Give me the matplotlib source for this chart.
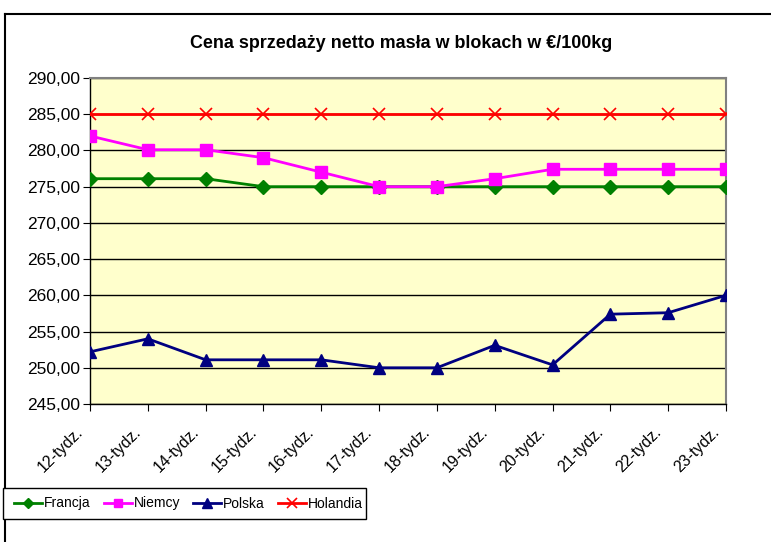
import matplotlib
matplotlib.use("Agg")
import matplotlib.pyplot as plt
from matplotlib.lines import Line2D
from matplotlib.patches import Rectangle
from matplotlib.transforms import ScaledTranslation
from matplotlib.ticker import FuncFormatter, MultipleLocator

plt.rcParams['font.family'] = ['Liberation Sans', 'DejaVu Sans']

weeks = ["12-tydz.", "13-tydz.", "14-tydz.", "15-tydz.", "16-tydz.", "17-tydz.",
         "18-tydz.", "19-tydz.", "20-tydz.", "21-tydz.", "22-tydz.", "23-tydz."]
francja = [276.1, 276.1, 276.1, 275.0, 275.0, 275.0, 275.0, 275.0, 275.0, 275.0, 275.0, 275.0]
niemcy = [282.0, 280.1, 280.1, 279.0, 277.0, 275.0, 275.0, 276.1, 277.4, 277.4, 277.4, 277.4]
polska = [252.2, 254.0, 251.1, 251.1, 251.1, 250.0, 250.0, 253.1, 250.4, 257.4, 257.6, 260.0]
holandia = [285.0] * 12

W, H = 771, 542
fig = plt.figure(figsize=(W / 100, H / 100), dpi=100)
ax = fig.add_axes([90 / W, 1 - 404 / H, (726 - 90) / W, (404 - 78) / H])
ax.set_facecolor("#FFFFCC")

x = list(range(len(weeks)))
ax.plot(x, francja, color="#008000", marker="D", markersize=7, lw=2, label="Francja", zorder=3)
ax.plot(x, niemcy, color="#FF00FF", marker="s", markersize=8, lw=2, label="Niemcy", zorder=3)
ax.plot(x, polska, color="#000080", marker="^", markersize=9, lw=2, label="Polska", zorder=3)
ax.plot(x, holandia, color="#FF0000", marker="x", markersize=9, mew=1.2, lw=2, label="Holandia", zorder=3)

ax.set_xlim(0, len(weeks) - 1)
ax.set_ylim(245, 290)
ax.yaxis.set_major_locator(MultipleLocator(5))
ax.yaxis.set_major_formatter(FuncFormatter(lambda v, p: f"{v:.2f}".replace(".", ",")))
ax.set_xticks(x)
ax.set_xticklabels(weeks, rotation=45, ha="right", va="baseline", rotation_mode="anchor", fontsize=11.5)
ax.tick_params(axis="y", labelsize=12.5, length=5, direction="out", pad=2)
ax.tick_params(axis="x", length=5, direction="out", pad=15.5)
shift = ScaledTranslation(-6 / 100, 0, fig.dpi_scale_trans)
for lab in ax.get_xticklabels():
    lab.set_transform(lab.get_transform() + shift)
ax.grid(axis="y", color="black", lw=1)
ax.set_axisbelow(True)
for s in ["top", "right"]:
    ax.spines[s].set_color("#808080")
    ax.spines[s].set_linewidth(1.5)
for s in ["left", "bottom"]:
    ax.spines[s].set_color("black")
    ax.spines[s].set_linewidth(1)
ax.spines["top"].set_zorder(4)

fig.text(401 / W, 1 - 43 / H, "Cena sprzedaży netto masła w blokach w €/100kg",
         ha="center", va="center", fontsize=12.9, fontweight="bold")

# outer chart border
fig.add_artist(Line2D([5 / W, 5 / W], [0, 1 - 14 / H], color="black", lw=1.5, transform=fig.transFigure))
fig.add_artist(Line2D([5 / W, 1], [1 - 14 / H, 1 - 14 / H], color="black", lw=1.5, transform=fig.transFigure))

# legend box
fig.add_artist(Rectangle((3 / W, 1 - 519 / H), 363 / W, 31 / H, transform=fig.transFigure,
                         facecolor="white", edgecolor="black", lw=1, zorder=5))
handles, labels = ax.get_legend_handles_labels()
fs = 10
px = fs * 100 / 72
leg = fig.legend(handles, labels, ncol=4, loc="center left",
                 bbox_to_anchor=(14 / W, 1 - 503.5 / H),
                 prop={"size": fs},
                 frameon=False, handlelength=28 / px, handletextpad=2 / px,
                 columnspacing=13 / px, borderaxespad=0, borderpad=0,
                 markerscale=0.75)
leg.set_zorder(6)

fig.savefig("out.png", dpi=100)
